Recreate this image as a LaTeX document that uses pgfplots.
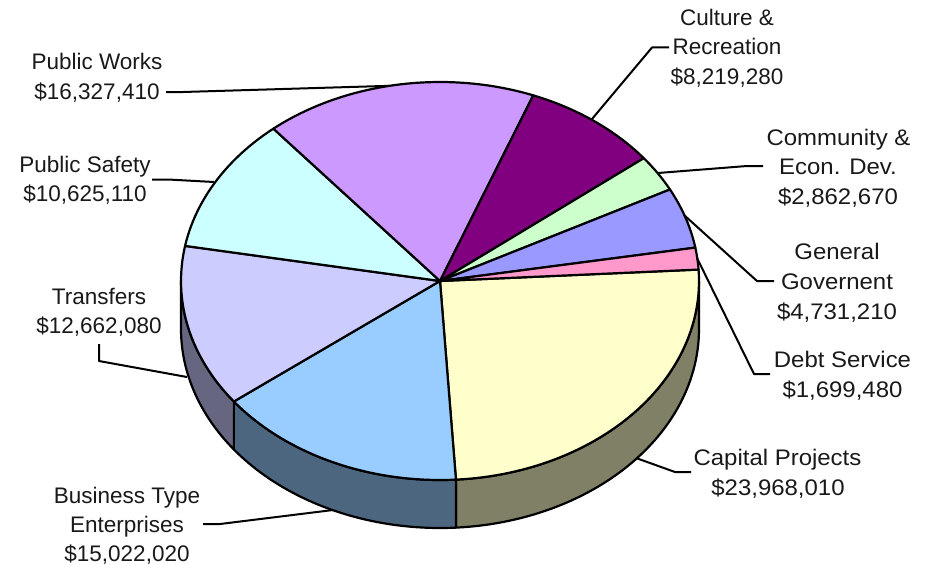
\documentclass[border=0pt]{standalone}
\usepackage{pgfplots}
\pgfplotsset{compat=1.18}
\usepackage{fontspec}
\setmainfont{Liberation Sans}

% Slice fill colours
\definecolor{capfill}{HTML}{FFFFCC}
\definecolor{bizfill}{HTML}{99CCFF}
\definecolor{trnfill}{HTML}{CCCCFF}
\definecolor{safefill}{HTML}{CCFFFF}
\definecolor{workfill}{HTML}{CC99FF}
\definecolor{cultfill}{HTML}{800080}
\definecolor{commfill}{HTML}{CCFFCC}
\definecolor{genfill}{HTML}{9999FF}
\definecolor{debtfill}{HTML}{FF99CC}
% Rim colours
\definecolor{caprim}{HTML}{808066}
\definecolor{bizrim}{HTML}{4D6680}
\definecolor{trnrim}{HTML}{666680}

% Pie geometry in pixel-like axis units
\def\cx{440}\def\cy{281}\def\rx{259}\def\ry{199}\def\depth{48}
\def\total{96.11727}
\def\startangle{363.3}

% Append points of an elliptical arc (#1 to #2, shifted down by #3) to \pts
\newcommand\arcpts[3]{%
  \pgfmathtruncatemacro\nsteps{max(2,ceil(abs(#2-#1)/1.5))}%
  \foreach \i in {0,...,\nsteps}{%
    \pgfmathsetmacro\t{#1+(#2-#1)*\i/\nsteps}%
    \pgfmathsetmacro\px{\cx+\rx*cos(\t)}%
    \pgfmathsetmacro\py{\cy-\ry*sin(\t)+#3}%
    \xdef\pts{\pts (\px,\py)}%
  }%
}
% Top face of one slice: value in millions, fill colour
\newcommand\slice[2]{%
  \pgfmathsetmacro\aend{\acur-#1/\total*360}%
  \gdef\pts{(\cx,\cy)}%
  \arcpts{\acur}{\aend}{0}%
  \edef\cmd{\noexpand\addplot[fill=#2,draw=black,line width=2.2bp,line join=round] coordinates {\pts} -- cycle;}%
  \cmd
  \global\let\acur\aend
}
% Rim of one slice, only where it faces the viewer
\newcommand\rim[2]{%
  \pgfmathsetmacro\aend{\acur-#1/\total*360}%
  \pgfmathsetmacro\hi{min(\acur,360)}%
  \pgfmathsetmacro\lo{max(\aend,180)}%
  \gdef\pts{}%
  \arcpts{\hi}{\lo}{0}%
  \arcpts{\lo}{\hi}{\depth}%
  \edef\cmd{\noexpand\addplot[fill=#2,draw=black,line width=2.2bp,line join=round] coordinates {\pts} -- cycle;}%
  \cmd
  \global\let\acur\aend
}
% Leader line style and one line of label text, placed by its baseline
\pgfplotsset{leader/.style={black,line width=2bp,line join=round}}
\newcommand\lab[3]{\node[anchor=base,inner sep=0pt,text=black!90] at (axis cs:#1,#2)
  {\fontsize{22.5bp}{27bp}\selectfont #3};}
% The same, set a little wider
\newcommand\labw[3]{\node[anchor=base,inner sep=0pt,text=black!90] at (axis cs:#1,#2)
  {\scalebox{1.065}[1]{\fontsize{22.5bp}{27bp}\selectfont #3}};}

\begin{document}
\begin{tikzpicture}
\begin{axis}[
  width=930bp,height=564bp,scale only axis,
  xmin=0,xmax=930,ymin=0,ymax=564,y dir=reverse,
  hide axis,clip=false]
\path (axis cs:0,0) (axis cs:930,564);

% Rim of the disc
\global\let\acur\startangle
\rim{23.96801}{caprim}
\rim{15.02202}{bizrim}
\rim{12.66208}{trnrim}

% Top faces, clockwise from Capital Projects
\global\let\acur\startangle
\slice{23.96801}{capfill}
\slice{15.02202}{bizfill}
\slice{12.66208}{trnfill}
\slice{10.62511}{safefill}
\slice{16.32741}{workfill}
\slice{8.21928}{cultfill}
\slice{2.86267}{commfill}
\slice{4.73121}{genfill}
\slice{1.69948}{debtfill}

% Leader lines
\addplot[leader] coordinates {(166,92) (183,92) (390,85.8)};
\addplot[leader] coordinates {(152,179.5) (168,179.5) (214,182)};
\addplot[leader] coordinates {(669,47.5) (652,47.5) (592,119)};
\addplot[leader] coordinates {(763,166) (747,166) (658,173)};
\addplot[leader] coordinates {(774,281) (757,281) (684,215)};
\addplot[leader] coordinates {(770,374) (754,374) (697,258)};
\addplot[leader] coordinates {(691,472) (675,472) (636,458)};
\addplot[leader] coordinates {(203,524) (220,524) (333,510)};
\addplot[leader] coordinates {(99,344) (99,361) (187,377)};

% Labels
\lab{97}{70}{Public Works}
\lab{97}{99}{\$16,327,410}
\lab{85}{172}{Public Safety}
\lab{85}{201}{\$10,625,110}
\lab{727}{26}{Culture \&}
\lab{727}{55}{Recreation}
\lab{727}{85}{\$8,219,280}
\labw{838.5}{145}{Community \&}
\labw{838}{174}{Econ. Dev.}
\labw{838}{204}{\$2,862,670}
\labw{837}{259}{General}
\labw{837}{289}{Governent}
\labw{837}{319}{\$4,731,210}
\labw{842.5}{367}{Debt Service}
\labw{842.5}{397}{\$1,699,480}
\labw{777.5}{465}{Capital Projects}
\labw{778}{495}{\$23,968,010}
\lab{127}{503}{Business Type}
\lab{127}{532}{Enterprises}
\lab{127}{561}{\$15,022,020}
\lab{99}{304}{Transfers}
\lab{99}{333}{\$12,662,080}
\end{axis}
\end{tikzpicture}
\end{document}
